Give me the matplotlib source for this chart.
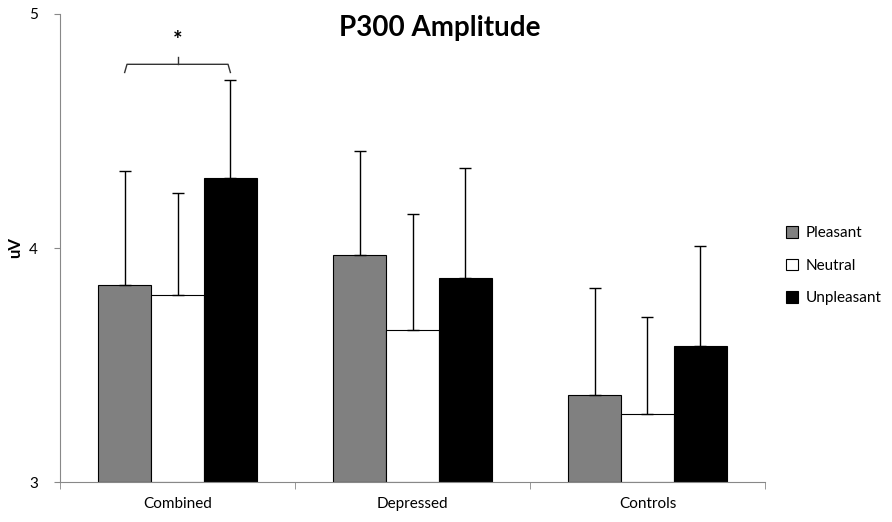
import matplotlib
matplotlib.use('Agg')
import matplotlib.pyplot as plt
import numpy as np
from matplotlib.ticker import FixedLocator

plt.rcParams['font.family'] = ['Lato', 'DejaVu Sans']

groups = ['Combined', 'Depressed', 'Controls']
conditions = ['Pleasant', 'Neutral', 'Unpleasant']
colors = ['#808080', '#ffffff', '#000000']

# means and (upper) error, uV
pleasant = [3.84, 3.97, 3.37]
neutral = [3.80, 3.65, 3.29]
unpleasant = [4.30, 3.87, 3.58]
pleasant_err = [0.49, 0.445, 0.46]
neutral_err = [0.435, 0.495, 0.415]
unpleasant_err = [0.42, 0.47, 0.43]

means = [pleasant, neutral, unpleasant]
errs = [pleasant_err, neutral_err, unpleasant_err]

fig = plt.figure(figsize=(8.92, 5.22), dpi=100)
ax = fig.add_axes([0.0673, 0.0766, 0.7903, 0.8966])

x = np.arange(len(groups))
w = 0.225
for i, cond in enumerate(conditions):
    xs = x + (i - 1) * w
    ax.bar(xs, np.array(means[i]) - 3, w, bottom=3, color=colors[i],
           edgecolor='black', linewidth=0.8, label=cond, zorder=2)
    ax.errorbar(xs, means[i], yerr=[np.zeros(len(groups)), errs[i]], fmt='none',
                ecolor='black', elinewidth=1.0, capsize=4, capthick=1.0, zorder=3)

ax.set_xlim(-0.5, 2.5)
ax.set_ylim(3, 5)
ax.set_yticks([3, 4, 5])
ax.set_xticks(x)
ax.set_xticklabels(groups, fontsize=11)
ax.tick_params(axis='x', which='major', length=0, pad=11)
ax.xaxis.set_minor_locator(FixedLocator([-0.5, 0.5, 1.5, 2.5]))
ax.tick_params(axis='x', which='minor', length=5, color='#888888')
ax.tick_params(axis='y', length=4, color='#888888', labelsize=11, pad=12)
for s in ['top', 'right']:
    ax.spines[s].set_visible(False)
for s in ['left', 'bottom']:
    ax.spines[s].set_color('#888888')

ax.set_ylabel('uV', fontsize=12, fontweight='bold', labelpad=4)
ax.set_title('P300 Amplitude', fontsize=20, fontweight='bold', x=0.539, y=0.935)

# significance bracket between Pleasant and Unpleasant in Combined
xl = x[0] - w
xr = x[0] + w
top = unpleasant[0] + unpleasant_err[0]
yb = top + 0.03
yt = top + 0.065
ax.plot([xl, xl + 0.01, xr - 0.01, xr], [yb, yt, yt, yb], color='#333333', lw=1.0,
        clip_on=False)
ax.plot([x[0], x[0]], [yt, yt + 0.03], color='#333333', lw=1.0, clip_on=False)
ax.text(x[0], yt + 0.1, '*', ha='center', va='center', fontsize=16, fontweight='bold')

ax.legend(loc='center left', bbox_to_anchor=(1.01, 0.462), frameon=False, fontsize=11,
          handlelength=0.8, handleheight=0.8, labelspacing=1.2, handletextpad=0.5)

fig.savefig('out.png', dpi=100)
